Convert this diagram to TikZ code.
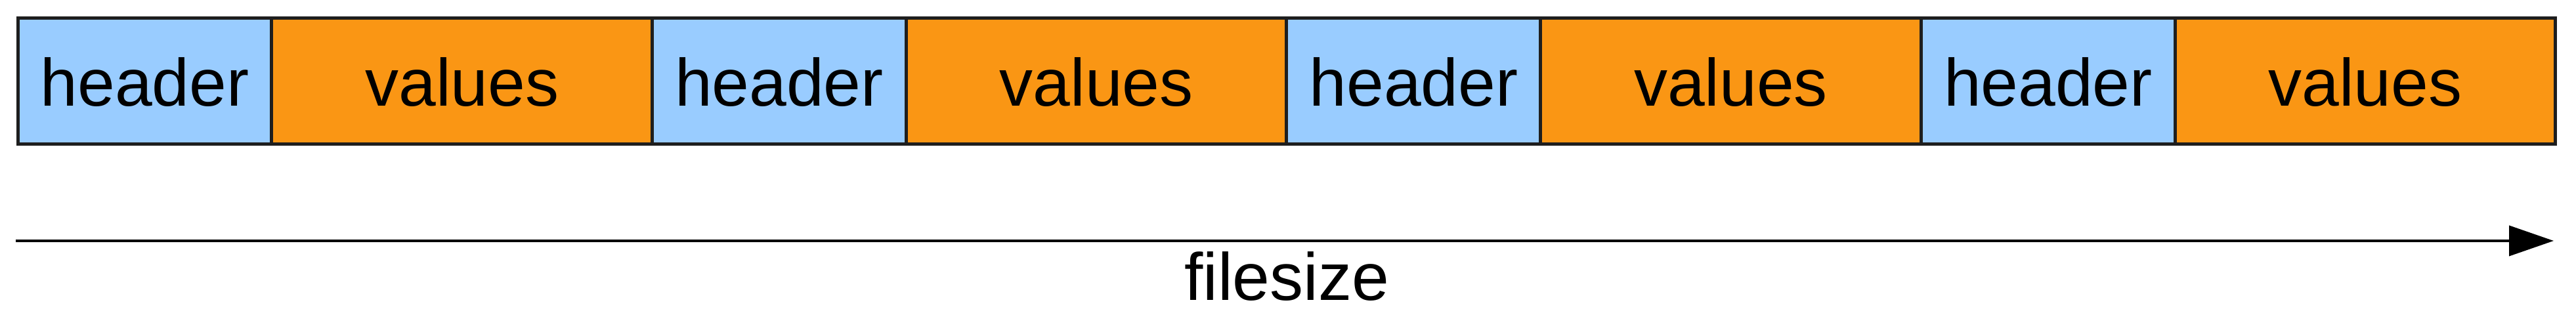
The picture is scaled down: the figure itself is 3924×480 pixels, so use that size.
\documentclass[tikz,border=0pt]{standalone}
\usepackage{fontspec}
\setmainfont{Liberation Sans}
\usetikzlibrary{arrows.meta}
\definecolor{hdrblue}{RGB}{153,204,255}
\definecolor{valorange}{RGB}{250,150,20}
\definecolor{edgeclr}{RGB}{30,30,30}
\begin{document}
\begin{tikzpicture}[x=0.1pt,y=-0.1pt,
  cell/.style={draw=edgeclr,line width=0.5pt,rectangle,inner sep=0pt,outer sep=0pt,
    minimum height=19.2pt,text height=7.6pt,text depth=0pt,anchor=west,
    font=\fontsize{10.2}{12}\selectfont},
  hdr/.style={cell,fill=hdrblue,minimum width=38.7pt},
  val/.style={cell,fill=valorange,minimum width=57.95pt},
  axis/.style={line width=0.4pt,-{Triangle[length=6.8pt,width=4.6pt]}}]
\useasboundingbox (0,0) rectangle (3924,480);
\node[hdr] (h1) at (27,124) {header};
\node[val] (v1) at (h1.east) {values};
\node[hdr] (h2) at (v1.east) {header};
\node[val] (v2) at (h2.east) {values};
\node[hdr] (h3) at (v2.east) {header};
\node[val] (v3) at (h3.east) {values};
\node[hdr] (h4) at (v3.east) {header};
\node[val] (v4) at (h4.east) {values};
\coordinate (a0) at (24,367);
\coordinate (a1) at (3890,367);
\draw[axis] (a0) -- (a1);
\node[anchor=base,inner sep=0pt,font=\fontsize{10.2}{12}\selectfont] (fs) at (1960,458) {filesize};
\end{tikzpicture}
\end{document}
